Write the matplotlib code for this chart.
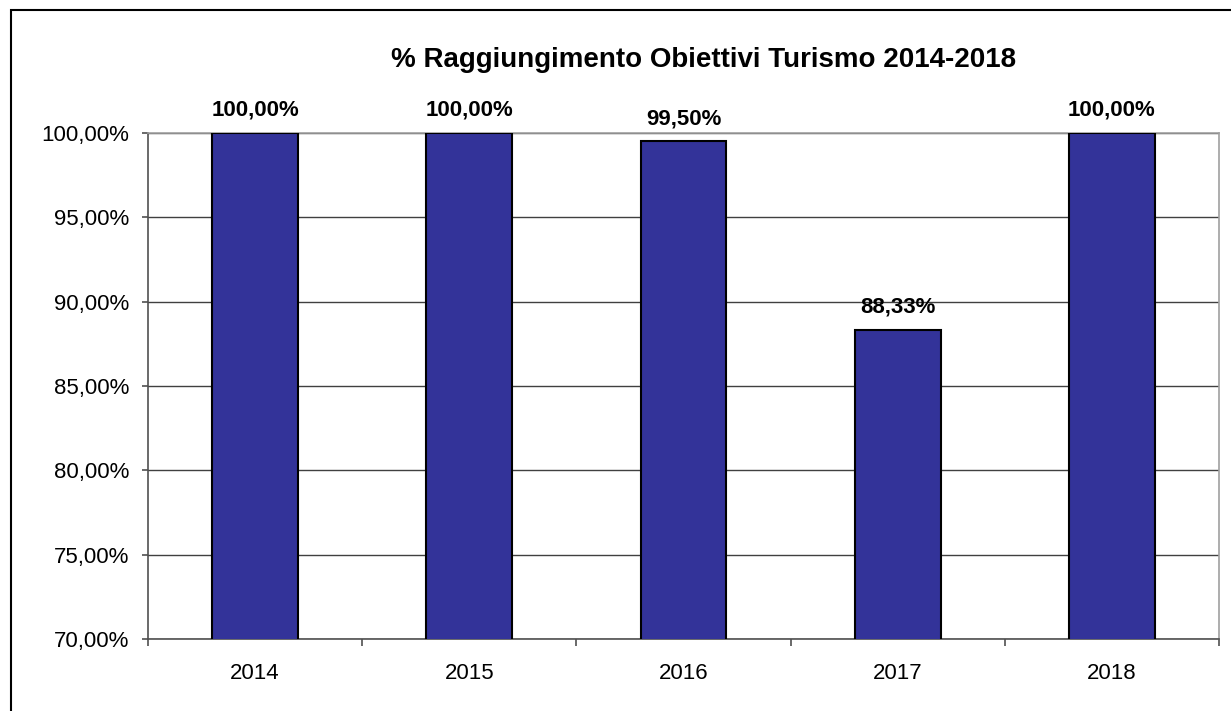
import matplotlib.pyplot as plt
from matplotlib.patches import Rectangle
from matplotlib.ticker import FixedLocator, FuncFormatter

anni = ["2014", "2015", "2016", "2017", "2018"]
raggiungimento = [100.00, 100.00, 99.50, 88.33, 100.00]
etichette = ["100,00%", "100,00%", "99,50%", "88,33%", "100,00%"]

plt.rcParams["font.family"] = ["Liberation Sans", "DejaVu Sans"]

W, H = 1231, 711
fig = plt.figure(figsize=(W / 100, H / 100), dpi=100)
ax = fig.add_axes([148 / W, 72 / H, (1219 - 148) / W, (639 - 133) / H])

x = list(range(len(anni)))
ax.bar(x, raggiungimento, width=0.4, color="#333399", edgecolor="black",
       linewidth=1.5, zorder=3)

# value labels above bars
for xi, v, lab in zip(x, raggiungimento, etichette):
    ax.annotate(lab, (xi, v), xytext=(0, 12.5), textcoords="offset points",
                ha="center", va="baseline", fontsize=16, fontweight="bold")

ax.set_xlim(-0.5, len(anni) - 0.5)
ax.set_ylim(70, 100)
ax.set_yticks([70, 75, 80, 85, 90, 95, 100])
ax.yaxis.set_major_formatter(FuncFormatter(lambda v, p: f"{v:.2f}%".replace(".", ",")))
ax.set_xticks(x)
ax.set_xticklabels(anni)
ax.xaxis.set_minor_locator(FixedLocator([i - 0.5 for i in range(len(anni) + 1)]))

ax.tick_params(axis="x", which="major", length=0, pad=17, labelsize=16)
ax.tick_params(axis="x", which="minor", length=5, width=1.2, color="#505050")
ax.tick_params(axis="y", length=4.5, width=1.2, color="#505050", pad=9, labelsize=16)

ax.grid(axis="y", color="#404040", linewidth=1, zorder=0)
for s in ["top", "right"]:
    ax.spines[s].set_color("#a0a0a0")
    ax.spines[s].set_linewidth(1.2)
for s in ["left", "bottom"]:
    ax.spines[s].set_color("#505050")
    ax.spines[s].set_linewidth(1.2)

fig.text(704 / W, 1 - 60 / H, "% Raggiungimento Obiettivi Turismo 2014-2018",
         ha="center", va="center", fontsize=20, fontweight="bold")

# outer chart border
fig.patches.append(Rectangle((11 / W, -0.1), 2, 1.1 - 10 / H,
                             transform=fig.transFigure, fill=False,
                             edgecolor="black", linewidth=1.5))

plt.savefig("out.png", dpi=100)
plt.close()
